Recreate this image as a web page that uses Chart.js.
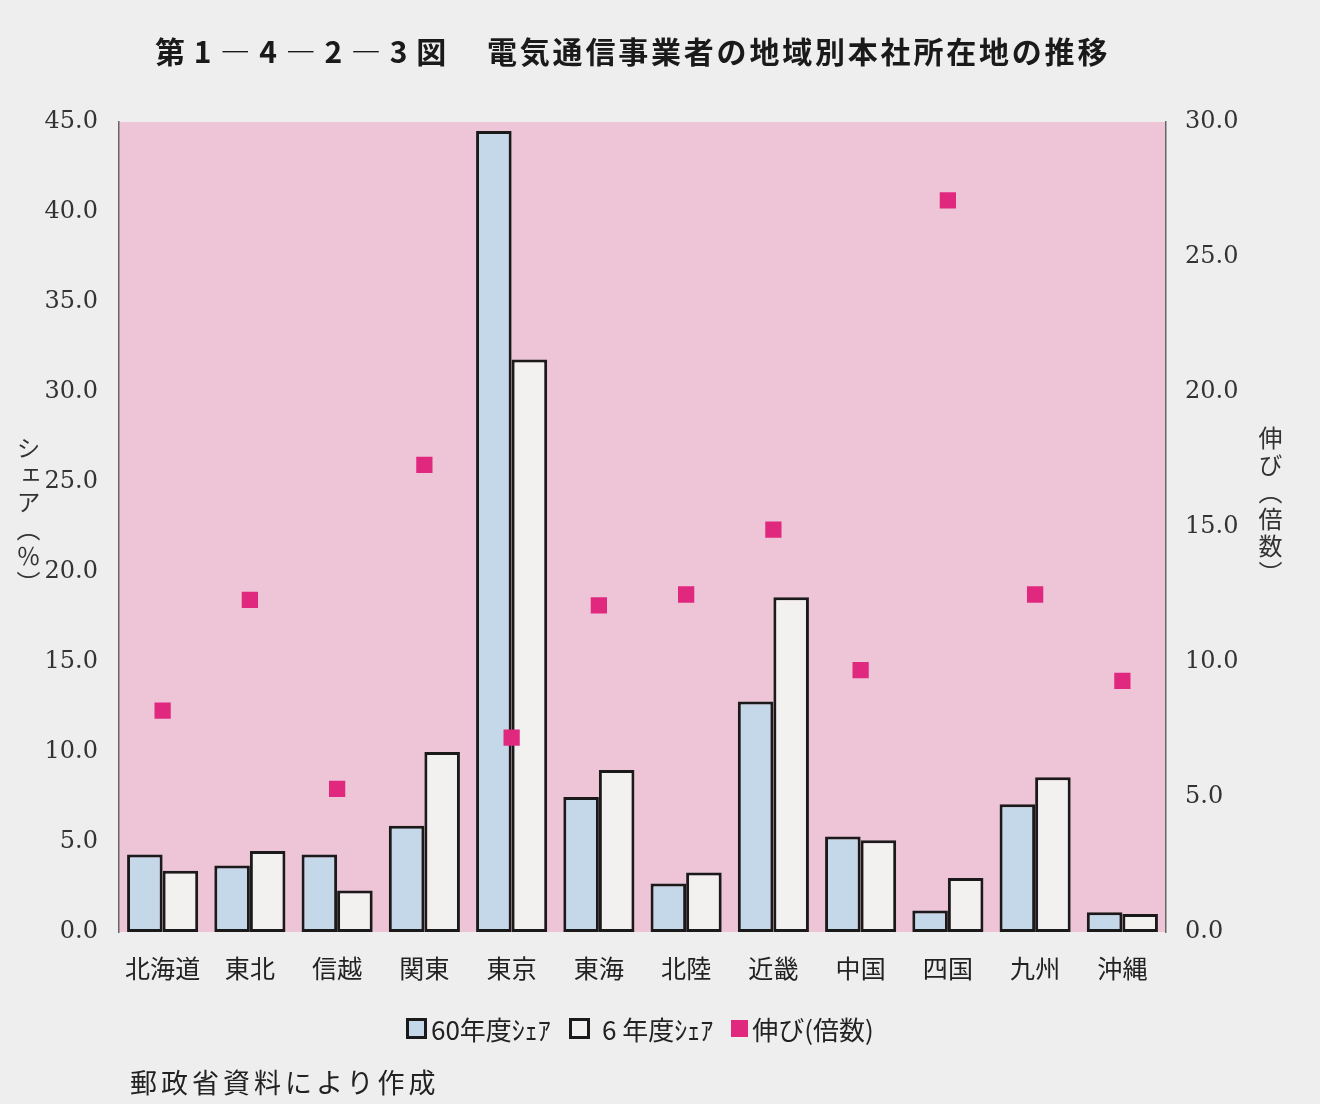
<!DOCTYPE html>
<html lang="ja">
<head>
<meta charset="utf-8">
<script src="https://cdn.jsdelivr.net/npm/chart.js@4.4.1/dist/chart.umd.min.js"></script>
<style>
  body { margin: 0; background: #eeeeee; }
  #wrap { position: relative; width: 1320px; height: 1104px; background: #eeeeee; overflow: hidden; font-family: "Noto Sans CJK JP", sans-serif; color: #222; }
  #box { position: absolute; left: 0; top: 0; width: 1320px; height: 1104px; }
  .title { position: absolute; top: 28px; font-size: 30px; font-weight: bold; color: #1a1a1a; white-space: nowrap; }
  .vlabel { position: absolute; writing-mode: vertical-rl; font-size: 24px; color: #333; letter-spacing: 3px; }
  #legend { position: absolute; left: 406px; top: 1010px; font-size: 26px; color: #222; white-space: nowrap; display: flex; align-items: center; }
  .sw { display: inline-block; width: 15px; height: 15px; border: 3px solid #1a1a1a; margin-right: 4px; }
  .note { position: absolute; left: 130px; top: 1062px; font-size: 27px; letter-spacing: 4px; color: #222; }
</style>
</head>
<body>
<div id="wrap">
  <div id="box"><canvas id="chart"></canvas></div>
  <div class="title" style="left:155px; letter-spacing:1px;">第 1 ― 4 ― 2 ― 3 図</div>
  <div class="title" style="left:487px; letter-spacing:2.8px;">電気通信事業者の地域別本社所在地の推移</div>
  <div class="vlabel" style="left:11px; top:436px;">シェア（％）</div>
  <div class="vlabel" style="left:1253px; top:426px;">伸び（倍数）</div>
  <div id="legend">
    <span class="sw" style="background:#c4d8ea"></span><span>60年度ｼｪｱ</span>
    <span class="sw" style="background:#f3f1f0; margin-left:18px; margin-right:12px"></span><span>6 年度ｼｪｱ</span>
    <span class="sw" style="background:#e0287f; border-color:#e0287f; margin-left:18px; width:15px; height:15px; border-width:1px"></span><span>伸び(倍数)</span>
  </div>
  <div class="note">郵政省資料により作成</div>
</div>
<script>
const regions = ['北海道', '東北', '信越', '関東', '東京', '東海', '北陸', '近畿', '中国', '四国', '九州', '沖縄'];
const share60 = [4.3, 3.7, 4.3, 5.9, 44.5, 7.5, 2.7, 12.8, 5.3, 1.2, 7.1, 1.1];
const share6 = [3.4, 4.5, 2.3, 10.0, 31.8, 9.0, 3.3, 18.6, 5.1, 3.0, 8.6, 1.0];
const growth = [8.2, 12.3, 5.3, 17.3, 7.2, 12.1, 12.5, 14.9, 9.7, 27.1, 12.5, 9.3];

const leftTicks = { min: 0, max: 45, step: 5 };
const rightTicks = { min: 0, max: 30, step: 5 };

const plotBg = {
  id: 'plotBg',
  beforeDraw(chart) {
    const { ctx, chartArea: a } = chart;
    ctx.save();
    ctx.fillStyle = '#eec4d7';
    ctx.fillRect(a.left, a.top, a.right - a.left, a.bottom - a.top);
    ctx.restore();
  }
};

const tickFont = { family: '"DejaVu Serif", serif', size: 24 };

new Chart(document.getElementById('chart'), {
  type: 'bar',
  data: {
    labels: regions,
    datasets: [
      {
        label: '伸び(倍数)', type: 'line', data: growth, yAxisID: 'y2', order: 0,
        showLine: false, pointStyle: 'rect', pointRadius: 11.5,
        pointBackgroundColor: '#e0287f', pointBorderColor: '#e0287f', pointBorderWidth: 0
      },
      {
        label: '60年度ｼｪｱ', data: share60, yAxisID: 'y', order: 1,
        backgroundColor: '#c4d8ea', borderColor: '#1a1a1a', borderWidth: 3, borderSkipped: false,
        categoryPercentage: 0.815, barPercentage: 1.0
      },
      {
        label: '6 年度ｼｪｱ', data: share6, yAxisID: 'y', order: 1,
        backgroundColor: '#f3f1f0', borderColor: '#1a1a1a', borderWidth: 3, borderSkipped: false,
        categoryPercentage: 0.815, barPercentage: 1.0
      }
    ]
  },
  options: {
    responsive: true, maintainAspectRatio: false, animation: false,
    layout: { padding: { top: 122, bottom: 112, left: 0, right: 0 } },
    plugins: { legend: { display: false }, tooltip: { enabled: false } },
    scales: {
      x: {
        grid: { display: false, drawTicks: false },
        border: { display: false },
        ticks: { color: '#222', font: { family: '"Noto Sans CJK JP", sans-serif', size: 25 }, padding: 21 },
        afterFit: s => { s.height = 60; }
      },
      y: {
        position: 'left', min: leftTicks.min, max: leftTicks.max,
        grid: { display: false, drawTicks: false },
        border: { display: true, color: '#666', width: 1.5 },
        ticks: { stepSize: leftTicks.step, color: '#333', font: tickFont, padding: 21, callback: v => v.toFixed(1) },
        afterFit: s => { s.width = 119; }
      },
      y2: {
        position: 'right', min: rightTicks.min, max: rightTicks.max,
        grid: { display: false, drawTicks: false },
        border: { display: true, color: '#666', width: 1.5 },
        ticks: { stepSize: rightTicks.step, color: '#333', font: tickFont, padding: 19, callback: v => v.toFixed(1) },
        afterFit: s => { s.width = 154; }
      }
    }
  },
  plugins: [plotBg]
});
</script>
</body>
</html>
